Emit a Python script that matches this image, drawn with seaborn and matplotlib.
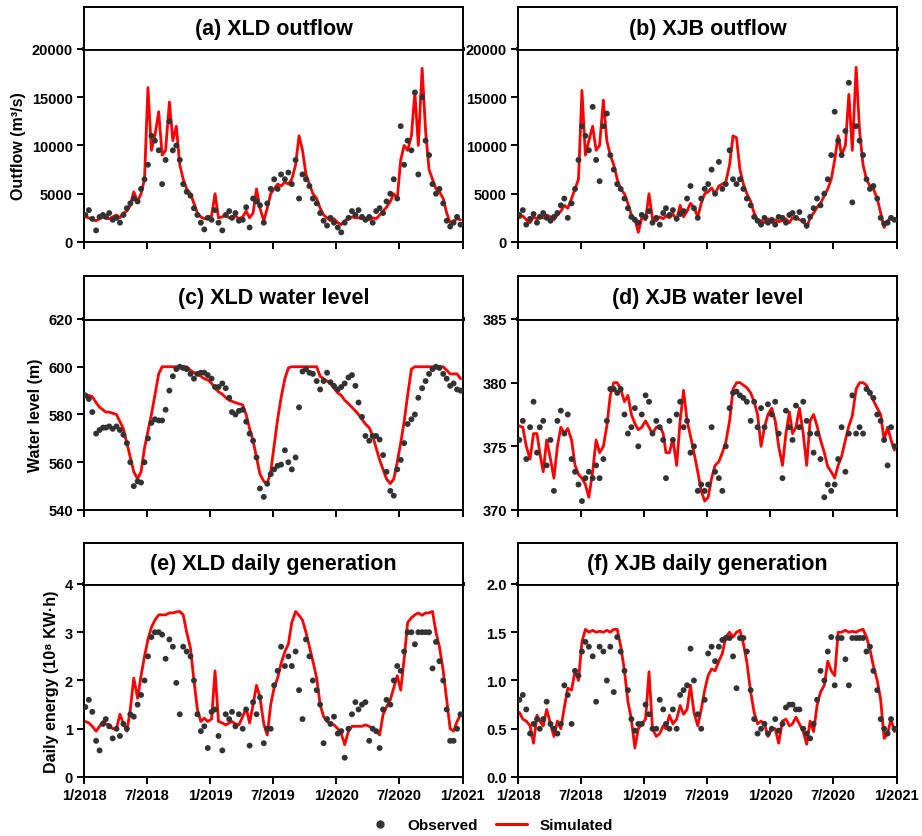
import numpy as np
import pandas as pd
import seaborn as sns
import matplotlib.pyplot as plt

sns.set_theme(style="ticks")
plt.rcParams['font.family'] = ['Liberation Sans', 'DejaVu Sans']
plt.rcParams['font.weight'] = 'bold'
plt.rcParams['axes.labelweight'] = 'bold'
plt.rcParams['text.color'] = 'black'
plt.rcParams['axes.labelcolor'] = 'black'

# x axis: one value per dekad (5th, 15th, 25th of each month), 2018-2020
dates = [pd.Timestamp(y, m, d) for y in (2018, 2019, 2020) for m in range(1, 13) for d in (5, 15, 25)]

# ---------------------------------------------------------------------
# (a) XLD outflow, m3/s
# ---------------------------------------------------------------------
obs_xld_q = [
    2800, 3300, 2400, 1200, 2600, 2800, 2600, 3000, 2300, 2500, 2000, 2800,
    3500, 4000, 4500, 4200, 5500, 6500, 8000, 11000, 10500, 9500, 6000, 8500,
    12500, 9500, 10000, 8500, 6000, 5200, 4800, 3500, 2800, 2000, 1300, 2500,
    2300, 3300, 2000, 1200, 2800, 3200, 2500, 3000, 2200, 2300, 3600, 1500,
    4500, 4200, 3800, 2000, 4000, 5500, 6500, 5500, 7000, 6500, 7200, 6000,
    8500, 4500, 7000, 6500, 5800, 4500, 4000, 3000, 2200, 1700, 2500, 2000,
    1500, 1000, 2000, 2500, 3200, 2800, 3300, 2600, 2300, 2600, 2000, 3200,
    3500, 3000, 4200, 5000, 6500, 4500, 12000, 8000, 10500, 9500, 15500, 7000,
    15000, 10500, 9000, 6000, 5000, 5500, 4000, 2200, 1600, 2000, 2600, 1800]
sim_xld_q = [
    2600, 2500, 2300, 2200, 2400, 2600, 2500, 2400, 2600, 2800, 2500, 3000,
    3200, 3800, 5200, 4200, 5000, 6500, 16000, 9500, 11000, 13500, 9000, 9500,
    14500, 10500, 12000, 8000, 6500, 5500, 5000, 4000, 3000, 2600, 2400, 2500,
    2700, 5000, 2500, 2600, 2800, 2500, 2500, 2700, 2400, 2600, 3200, 2500,
    3000, 5500, 3500, 2200, 3500, 5000, 5500, 6000, 5800, 6200, 6000, 6500,
    8000, 11000, 9500, 7000, 6000, 5000, 4500, 3500, 2800, 2500, 2200, 2400,
    2000, 1800, 2200, 2400, 2600, 2500, 2500, 2400, 2500, 2300, 2500, 2400,
    2800, 3200, 3600, 4200, 5000, 4500, 8500, 10000, 9500, 11000, 15500, 10000,
    18000, 11500, 7500, 6500, 5500, 5200, 4500, 3000, 2000, 2200, 2400, 2300]

# ---------------------------------------------------------------------
# (b) XJB outflow, m3/s
# ---------------------------------------------------------------------
obs_xjb_q = [
    2800, 3300, 1800, 2400, 2900, 2000, 2600, 3000, 2500, 2200, 2600, 3000,
    3800, 4500, 2500, 4000, 5500, 8500, 12000, 11000, 9500, 14000, 8500, 6300,
    12000, 13300, 9000, 7500, 6000, 5500, 4500, 3500, 2600, 2300, 2000, 2800,
    2600, 3200, 2000, 2500, 1800, 3000, 3500, 2800, 3300, 2400, 2900, 3200,
    4500, 5800, 3500, 2500, 4500, 5500, 6000, 7500, 5000, 8300, 5500, 6000,
    9500, 6500, 6000, 6500, 5500, 4500, 3800, 2600, 2200, 1800, 2500, 2000,
    2300, 1800, 2600, 2500, 2000, 2800, 3000, 2500, 3100, 2200, 1700, 2600,
    3500, 4500, 3800, 5000, 6500, 9000, 13500, 10500, 9000, 11500, 16500, 4100,
    12000, 10500, 9000, 6500, 5500, 5800, 4500, 2500, 1900, 2000, 2500, 2300]
sim_xjb_q = [
    2500, 2700, 2300, 2000, 2600, 2400, 2700, 2500, 2800, 2600, 2300, 2800,
    3200, 3800, 3500, 4500, 5500, 6500, 15700, 9000, 10500, 12000, 9500, 10000,
    14700, 10500, 9000, 8000, 6500, 5500, 5000, 4000, 2800, 2400, 1000, 2500,
    2300, 5000, 2400, 2200, 2600, 2400, 2700, 2500, 2900, 2300, 3800, 2600,
    3200, 4000, 3600, 2600, 4000, 5000, 5200, 5600, 5000, 5800, 6000, 6200,
    8000, 11000, 10800, 7500, 6000, 5000, 4200, 3000, 2300, 2200, 2000, 2400,
    2000, 2300, 2100, 2200, 2400, 2000, 2500, 2600, 2300, 2200, 1500, 2500,
    3000, 3600, 4000, 4800, 5500, 6500, 8500, 11000, 9000, 10000, 15300, 9500,
    18100, 11500, 8000, 6500, 5800, 5500, 4500, 3000, 1500, 2200, 2500, 2200]

# ---------------------------------------------------------------------
# (c) XLD water level, m
# ---------------------------------------------------------------------
obs_xld_z = [
    588, 586.5, 581, 572, 573.5, 574.5, 574.5, 575, 574, 575, 573.5, 571.5,
    568, 560, 550, 552, 551.5, 560, 570, 576.5, 578, 577.5, 577.5, 582,
    590, 596, 599, 600, 599.5, 599, 597, 595, 597, 597.5, 597.5, 596.5,
    595, 591.5, 591.5, 593, 591, 587, 581, 580, 581.5, 582, 577, 572,
    569, 562, 549, 545.5, 551, 555, 557, 558.5, 559, 565, 560, 557,
    562, 583, 598, 599, 597.5, 597, 594, 590.5, 594, 597.5, 593.5, 592,
    590.5, 591.5, 593, 595.5, 596.5, 592, 585, 579, 571, 569, 571, 571,
    569.5, 563, 556, 548, 546, 557, 561, 568, 576, 578, 580, 587,
    591, 594, 597, 599, 600, 599.5, 597, 595, 592, 593, 590.5, 590]
sim_xld_z = [
    588, 588, 587.5, 585, 583, 582, 581, 581, 580.5, 580, 577, 574,
    568, 562, 556, 553, 556, 566, 573, 580, 588, 597, 600, 600,
    600, 600, 600, 600, 600, 600, 598.5, 597.5, 597, 596, 595, 594.5,
    593, 591, 589.5, 588.5, 587, 586, 585.5, 585, 584.5, 584, 580, 574,
    569, 562, 555, 552, 551, 556, 567, 578, 587, 595, 599.5, 600,
    600, 600, 600, 600, 600, 600, 600, 596, 595, 594, 593, 591,
    589, 588, 586, 584.5, 583, 581.5, 580, 578, 576, 574.5, 571, 566,
    561, 557, 553, 551, 553, 560, 568, 577, 588, 599, 600, 600,
    600, 600, 600, 600, 600, 600, 600, 598.5, 597, 597, 597, 595]

# ---------------------------------------------------------------------
# (d) XJB water level, m
# ---------------------------------------------------------------------
obs_xjb_z = [
    375.5, 377, 374, 376.5, 378.5, 374.5, 376.5, 377, 373.5, 375.5, 371.5, 377,
    377.8, 376, 377.5, 374, 373, 372, 370.7, 372.5, 373, 372.5, 373.5, 372.5,
    374, 377, 379.5, 379.5, 379.2, 379.5, 377.5, 376, 376.5, 378, 375, 377.5,
    379, 378.5, 376, 377, 376.5, 375.5, 372.5, 377, 375.5, 377.5, 378.5, 376.5,
    377, 374.5, 375, 371.5, 372, 371.5, 372, 376.5, 373, 372.5, 371.5, 375,
    378, 379.2, 379.3, 379, 378.8, 378.5, 377, 378.5, 376.5, 378, 376.5, 378.3,
    377.5, 378.5, 376, 372.5, 377.8, 376.5, 375.5, 378.2, 376.5, 378.5, 377, 376,
    374.5, 376, 374, 371, 372, 371.5, 372, 374, 376.5, 373, 376, 379,
    376, 376.5, 376, 379.5, 379.2, 378.8, 377.5, 377, 375.5, 373.5, 376.5, 375]
sim_xjb_z = [
    376.6, 376.5, 375, 374, 376, 376, 374.5, 373, 375.5, 374, 372.5, 375,
    376.5, 376, 376.4, 375.5, 373.5, 372.8, 372.5, 372, 371, 373, 375.5, 374.5,
    375, 376.6, 379, 380, 380, 379.5, 378.5, 379, 377.5, 376.8, 376.3, 376.5,
    377, 376.5, 376, 376.5, 376.6, 376, 374.5, 374.5, 375.6, 373.5, 377, 379.4,
    377, 375.8, 374.5, 373, 371.5, 370.7, 371, 372.5, 373.5, 373.8, 374.5, 375.3,
    377, 379.5, 380, 380, 379.8, 379.6, 379.2, 378.5, 377.5, 375, 376.5, 377.5,
    378, 377, 375, 373.5, 376, 377.7, 376, 376.5, 378, 376, 373.5, 377,
    377.5, 376.6, 375.5, 374.5, 373.4, 373, 372.5, 373.5, 374.2, 375.5, 376.6, 377.4,
    379.5, 380, 380, 379.8, 379.2, 378.6, 378, 377.5, 375.5, 376.5, 375.5, 374.7]

# ---------------------------------------------------------------------
# (e) XLD daily generation, 10^8 kWh
# ---------------------------------------------------------------------
obs_xld_e = [
    1.45, 1.6, 1.35, 0.75, 0.55, 1.1, 1.2, 1.05, 0.8, 1.0, 0.85, 1.1,
    1.0, 1.3, 1.25, 1.5, 1.7, 2.0, 2.5, 2.9, 3.0, 3.0, 2.95, 2.45,
    2.85, 2.7, 1.95, 1.3, 2.7, 2.6, 2.5, 2.0, 1.3, 0.95, 1.05, 0.6,
    1.35, 1.4, 0.85, 0.55, 1.3, 1.2, 1.35, 1.05, 1.3, 1.0, 1.4, 0.65,
    1.55, 1.3, 1.65, 0.7, 1.0, 1.0, 1.9, 2.2, 2.7, 2.3, 2.5, 2.3,
    2.6, 1.8, 1.2, 2.85, 2.5, 2.0, 1.8, 1.5, 0.7, 1.2, 1.1, 1.25,
    0.9, 0.95, 0.4, 1.0, 1.3, 1.55, 1.4, 1.5, 1.55, 0.75, 1.0, 0.95,
    0.6, 1.4, 1.6, 1.5, 2.0, 2.3, 2.2, 2.6, 3.0, 3.0, 2.75, 3.0,
    3.0, 3.0, 3.0, 2.25, 2.8, 2.4, 2.0, 1.4, 0.75, 0.75, 1.0, 1.3]
sim_xld_e = [
    1.15, 1.12, 1.05, 0.95, 1.05, 1.15, 1.1, 1.08, 1.0, 1.0, 1.3, 1.1,
    0.95, 1.4, 2.05, 1.63, 2.1, 2.5, 2.85, 3.1, 3.25, 3.36, 3.36, 3.36,
    3.4, 3.4, 3.42, 3.43, 3.36, 3.0, 2.67, 2.0, 1.4, 1.15, 1.22, 1.15,
    1.2, 2.2, 1.15, 1.12, 1.08, 1.12, 1.15, 1.1, 1.08, 1.25, 1.43, 1.12,
    1.5, 1.9, 1.65, 1.1, 0.87, 1.5, 1.85, 2.05, 2.35, 2.6, 2.75, 3.2,
    3.43, 3.35, 3.25, 3.0, 2.7, 2.4, 2.05, 1.5, 1.25, 1.15, 1.1, 1.08,
    1.0, 0.9, 0.67, 0.95, 1.05, 1.05, 1.05, 1.05, 1.08, 1.05, 1.0, 0.95,
    0.87, 1.29, 1.45, 1.6, 1.85, 2.1, 1.8, 2.45, 3.2, 3.3, 3.36, 3.4,
    3.35, 3.4, 3.4, 3.43, 3.0, 2.7, 2.2, 1.6, 1.0, 0.95, 1.15, 1.29]

# ---------------------------------------------------------------------
# (f) XJB daily generation, 10^8 kWh
# ---------------------------------------------------------------------
obs_xjb_e = [
    0.8, 0.85, 0.7, 0.45, 0.55, 0.6, 0.5, 0.6, 0.78, 0.55, 0.5, 0.45,
    0.55, 0.95, 0.85, 0.55, 1.1, 1.05, 1.3, 1.4, 1.35, 1.25, 0.78, 1.35,
    1.3, 1.0, 1.35, 0.88, 1.45, 1.3, 1.1, 0.9, 0.6, 0.48, 0.55, 0.55,
    0.75, 0.65, 0.5, 0.5, 0.8, 0.7, 0.55, 0.5, 0.7, 0.5, 0.85, 0.9,
    0.95, 1.33, 1.0, 0.65, 0.5, 0.8, 1.28, 1.35, 1.2, 1.35, 1.42, 1.44,
    1.44, 1.25, 0.92, 1.44, 1.44, 1.3, 0.9, 0.6, 0.45, 0.5, 0.55, 0.45,
    0.5, 0.6, 0.48, 0.55, 0.72, 0.75, 0.75, 0.7, 0.7, 0.5, 0.45, 0.4,
    0.55, 0.8, 1.1, 1.0, 1.3, 1.45, 0.95, 1.44, 1.44, 1.22, 0.95, 1.44,
    1.44, 1.44, 1.44, 1.3, 1.35, 1.1, 0.9, 0.6, 0.5, 0.45, 0.6, 0.5]
sim_xjb_e = [
    0.67, 0.6, 0.58, 0.53, 0.35, 0.64, 0.58, 0.53, 0.7, 0.55, 0.42, 0.58,
    0.5, 0.72, 0.92, 0.9, 1.1, 1.0, 1.4, 1.53, 1.5, 1.52, 1.5, 1.51,
    1.5, 1.52, 1.5, 1.53, 1.53, 1.36, 1.1, 0.78, 0.6, 0.3, 0.5, 0.55,
    0.6, 1.09, 0.5, 0.42, 0.45, 0.53, 0.5, 0.64, 0.55, 0.6, 0.74, 0.65,
    0.7, 0.95, 0.67, 0.53, 0.7, 0.9, 1.05, 1.12, 1.1, 1.2, 1.28, 1.45,
    1.5, 1.45, 1.5, 1.52, 1.38, 1.19, 0.88, 0.67, 0.55, 0.58, 0.55, 0.42,
    0.5, 0.5, 0.35, 0.58, 0.6, 0.53, 0.55, 0.62, 0.55, 0.47, 0.34, 0.58,
    0.47, 0.74, 0.88, 0.95, 1.2, 1.1, 1.05, 1.5, 1.5, 1.52, 1.5, 1.51,
    1.5, 1.52, 1.53, 1.45, 1.32, 1.15, 1.0, 0.8, 0.4, 0.45, 0.6, 0.47]

tick_dates = pd.to_datetime(['2018-01-01', '2018-07-01', '2019-01-01', '2019-07-01',
                             '2020-01-01', '2020-07-01', '2021-01-01'])
tick_labels = ['1/2018', '7/2018', '1/2019', '7/2019', '1/2020', '7/2020', '1/2021']

panels = [
    ('(a) XLD outflow', obs_xld_q, sim_xld_q, (0, 20000), [0, 5000, 10000, 15000, 20000], 'Outflow (m³/s)', '{:.0f}'),
    ('(b) XJB outflow', obs_xjb_q, sim_xjb_q, (0, 20000), [0, 5000, 10000, 15000, 20000], '', '{:.0f}'),
    ('(c) XLD water level', obs_xld_z, sim_xld_z, (540, 620), [540, 560, 580, 600, 620], 'Water level (m)', '{:.0f}'),
    ('(d) XJB water level', obs_xjb_z, sim_xjb_z, (370, 385), [370, 375, 380, 385], '', '{:.0f}'),
    ('(e) XLD daily generation', obs_xld_e, sim_xld_e, (0, 4), [0, 1, 2, 3, 4], 'Daily energy (10⁸ KW·h)', '{:.0f}'),
    ('(f) XJB daily generation', obs_xjb_e, sim_xjb_e, (0, 2), [0.0, 0.5, 1.0, 1.5, 2.0], '', '{:.1f}'),
]

# panel geometry in figure fractions (axes bottom, axes height, title box height)
lefts = [0.0911, 0.5618]
width = 0.411
rows = [(0.7097, 0.2306, 0.050), (0.3895, 0.2282, 0.051), (0.0705, 0.2306, 0.049)]

fig = plt.figure(figsize=(9.22, 8.37), dpi=100)
obs_color = '#333333'
sim_color = '#ff0000'

for k, (title, obs, sim, ylim, yticks, ylabel, fmt) in enumerate(panels):
    r, c = divmod(k, 2)
    bottom, height, box_h = rows[r]
    ax = fig.add_axes([lefts[c], bottom, width, height])
    df = pd.DataFrame({'date': dates, 'Observed': obs, 'Simulated': sim})

    sns.lineplot(data=df, x='date', y='Simulated', color=sim_color, linewidth=2.0, ax=ax)
    sns.scatterplot(data=df, x='date', y='Observed', color=obs_color, s=18,
                    edgecolor='none', ax=ax, zorder=3)

    ax.set_xlim(pd.Timestamp('2018-01-01'), pd.Timestamp('2021-01-01'))
    ax.set_ylim(*ylim)
    ax.set_yticks(yticks)
    ax.set_yticklabels([fmt.format(v) for v in yticks])
    ax.set_xticks(tick_dates)
    if r == 2:
        ax.set_xticklabels(tick_labels)
    else:
        ax.set_xticklabels([])
    ax.set_xlabel('')
    ax.set_ylabel(ylabel, fontsize=11.5, fontweight='bold', labelpad=4, color='black')
    ax.tick_params(direction='out', length=5, width=1.4, labelsize=10.5, colors='black', pad=3)
    for lab in ax.get_xticklabels() + ax.get_yticklabels():
        lab.set_fontweight('bold')
    for side in ['left', 'bottom', 'right']:
        ax.spines[side].set_linewidth(1.4)
        ax.spines[side].set_color('black')
    ax.spines['top'].set_linewidth(2.8)
    ax.spines['top'].set_color('black')

    # title strip above each panel
    box = fig.add_axes([lefts[c], bottom + height, width, box_h])
    box.set_xticks([])
    box.set_yticks([])
    for side in ['left', 'top', 'right']:
        box.spines[side].set_linewidth(1.4)
        box.spines[side].set_color('black')
    box.spines['bottom'].set_visible(False)
    box.text(0.5, 0.5, title, ha='center', va='center', fontsize=15.5, fontweight='bold',
             color='black', transform=box.transAxes)

handles = [
    plt.Line2D([], [], marker='o', linestyle='none', color=obs_color, markersize=5),
    plt.Line2D([], [], color=sim_color, linewidth=2.2),
]
fig.legend(handles, ['Observed', 'Simulated'], loc='center', bbox_to_anchor=(0.53, 0.013),
           ncol=2, frameon=False, prop={'weight': 'bold', 'size': 11}, handlelength=2.0,
           columnspacing=1.2, labelcolor='black')

fig.savefig('out.png', dpi=100)
